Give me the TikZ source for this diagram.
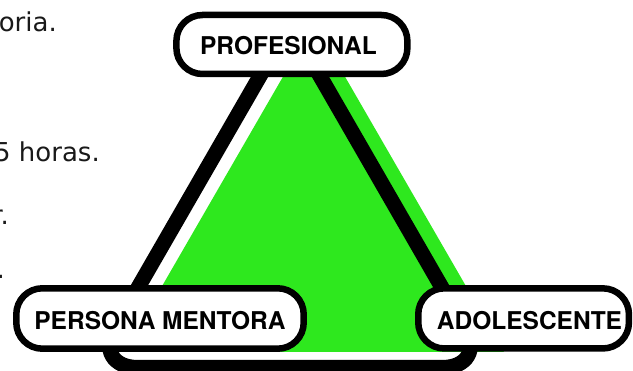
\documentclass[tikz,border=0pt]{standalone}
\usepackage{fontspec}
\setmainfont{TeX Gyre Heros}
\newfontfamily\bodyfont{DejaVu Sans}
\definecolor{tgreen}{RGB}{46,232,30}
\begin{document}
\begin{tikzpicture}[x=1pt,y=-1pt,
  pill/.style={draw=black, fill=white, line width=6.5pt, rounded corners=26pt, inner sep=0pt},
  lbl/.style={font=\fontsize{24.5}{28}\selectfont\bfseries, inner sep=0pt, anchor=base},
  body/.style={font=\bodyfont\fontsize{26}{30}\selectfont, inner sep=0pt, anchor=base east, text=black!90}]
\useasboundingbox (0,0) rectangle (633,371);
\clip (0,0) rectangle (633,371);
% cut-off body text on the left
\node[body] (t1) at (57,32) {oria.};
\node[body] (t2) at (100,162) {5 horas.};
\node[body] (t3) at (9,225) {r.};
\node[body] (t4) at (5,279) {.};
% green triangle
\fill[tgreen] (314,23) -- (124,352) -- (504,352) -- cycle;
% black outlined triangle
\draw[line width=15pt, rounded corners=46pt] (290,24) -- (92,367.5) -- (488,367.5) -- cycle;
% boxes
\node[pill, minimum width=231pt, minimum height=59pt] (prof) at (291.9,44.5) {};
\node[lbl] (proft) at (288.5,55) {PROFESIONAL};
\node[pill, minimum width=287.4pt, minimum height=60.4pt] (ment) at (160,318.5) {};
\node[lbl] (mentt) at (160,330) {PERSONA MENTORA};
\node[pill, minimum width=210.7pt, minimum height=60.1pt] (adol) at (523.6,318.4) {};
\node[lbl] (adolt) at (529.5,329.3) {ADOLESCENTE};
\end{tikzpicture}
\end{document}
